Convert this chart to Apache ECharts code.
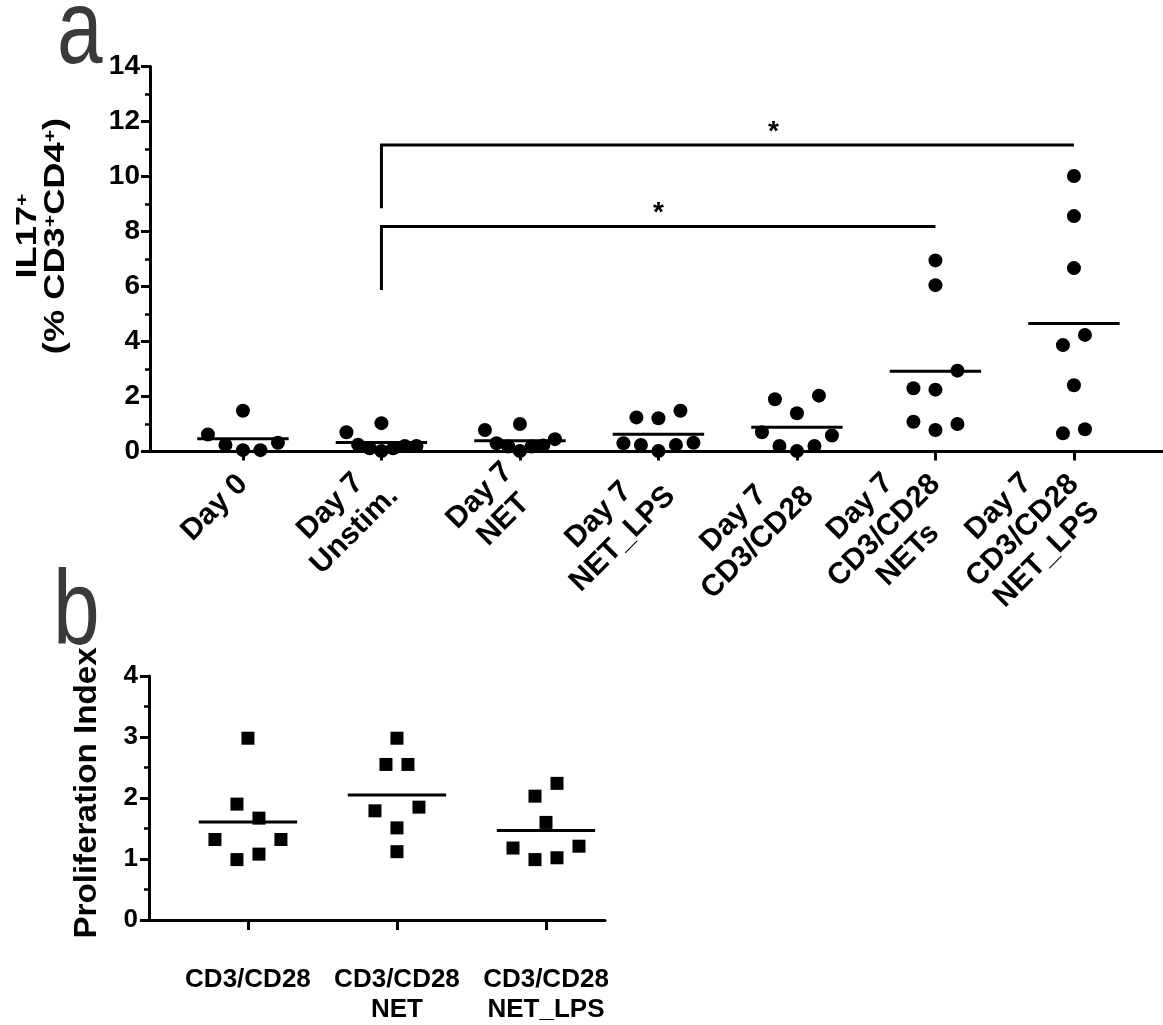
<!DOCTYPE html>
<html>
<head>
<meta charset="utf-8">
<script src="https://cdn.jsdelivr.net/npm/echarts@6/dist/echarts.min.js"></script>
<style>
  html, body { margin: 0; padding: 0; background: #fff; }
  #chart { width: 1163px; height: 1025px; }
</style>
</head>
<body>
<div id="chart"></div>
<script>
// panel a: IL17+ (% CD3+CD4+), one array per group (row order left to right)
const catsA = ['Day 0', 'Day 7\nUnstim.', 'Day 7\nNET', 'Day 7\nNET_LPS', 'Day 7\nCD3/CD28', 'Day 7\nCD3/CD28\nNETs', 'Day 7\nCD3/CD28\nNET_LPS']
const day0 = [0.62, 0.24, 0.05, 0.05, 0.32, 1.48]
const day7Unstim = [0.70, 0.25, 0.12, 0.02, 0.12, 0.20, 0.20, 1.03]
const day7Net = [0.78, 0.30, 0.18, 0.02, 0.18, 0.22, 0.45, 1.00]
const day7NetLps = [0.30, 0.24, 0.02, 0.24, 0.32, 1.24, 1.21, 1.48]
const day7Cd = [0.70, 0.20, 0.02, 0.20, 0.58, 1.90, 1.39, 2.03]
const day7CdNets = [1.08, 0.78, 1.00, 2.30, 2.25, 2.94, 6.05, 6.95]
const day7CdNetLps = [0.66, 0.81, 2.41, 3.87, 4.24, 6.67, 8.56, 10.02]
const groupsA = [day0, day7Unstim, day7Net, day7NetLps, day7Cd, day7CdNets, day7CdNetLps]
const ticksA = [0, 2, 4, 6, 8, 10, 12, 14]

// significance brackets in panel a
const bracketFrom = [1, 1]
const bracketTo = [5, 6]
const bracketTop = [8.18, 11.15]
const bracketDrop = [5.87, 8.85]
const starX = [3, 3.83]

// panel b: proliferation index
const catsB = ['CD3/CD28', 'CD3/CD28\nNET', 'CD3/CD28\nNET_LPS']
const cd = [1.32, 0.99, 1.08, 1.32, 1.90, 1.67, 2.98]
const cdNet = [1.12, 1.79, 1.51, 1.85, 2.55, 2.55, 2.98]
const cdNetLps = [1.18, 0.99, 1.02, 1.21, 1.60, 2.03, 2.24]
const groupsB = [cd, cdNet, cdNetLps]
const ticksB = [0, 1, 2, 3, 4]

const FONT = "'Liberation Sans', Arial, sans-serif"
const gA = { left: 150, top: 66.5, width: 1013, height: 385, xmin: -0.671, xmax: 6.643, ymax: 14 }
const gB = { left: 149, top: 676, width: 456, height: 248.3, xmin: -0.664, xmax: 2.396, ymax: 4 }
const MEAN_HALF = 0.33

// GraphPad-like column scatter: bin close values into rows, spread rows symmetrically
function swarm(vals, idx, g) {
  const pxX = g.width / (g.xmax - g.xmin), pxY = g.height / g.ymax
  const order = vals.map((v, k) => k).sort((a, b) => vals[a] - vals[b] || a - b)
  const rows = []
  order.forEach(k => {
    const row = rows[rows.length - 1]
    if (row && (vals[k] - vals[row[0]]) * pxY < 21.5) row.push(k)
    else rows.push([k])
  })
  const out = []
  rows.forEach(row => {
    row.sort((a, b) => a - b)
    const n = row.length
    const step = n > 1 ? Math.min(22, 70 / (n - 1)) : 0
    row.forEach((k, j) => out.push([idx + (j - (n - 1) / 2) * step / pxX, vals[k]]))
  })
  return out
}
const mean = a => a.reduce((s, v) => s + v, 0) / a.length

function meanSeries(groups, gi) {
  return {
    type: 'custom', xAxisIndex: gi, yAxisIndex: gi, z: 5,
    data: groups.map((g, i) => [i, mean(g)]),
    renderItem: (params, api) => {
      const p1 = api.coord([api.value(0) - MEAN_HALF, api.value(1)])
      const p2 = api.coord([api.value(0) + MEAN_HALF, api.value(1)])
      return { type: 'line', shape: { x1: p1[0], y1: p1[1], x2: p2[0], y2: p2[1] },
        style: { stroke: '#000', lineWidth: 3 } }
    }
  }
}

function xAxisOf(g, gi, cats, label) {
  const idx = cats.map((c, i) => i)
  return {
    type: 'value', gridIndex: gi, min: g.xmin, max: g.xmax,
    axisLine: { onZero: false, lineStyle: { color: '#000', width: 3 } },
    axisTick: { customValues: idx, length: gi === 0 ? 9 : 10, lineStyle: { color: '#000', width: 3 } },
    axisLabel: Object.assign({ customValues: idx, color: '#000', fontFamily: FONT, fontWeight: 'bold' }, label),
    splitLine: { show: false }
  }
}

function yAxisOf(g, gi, ticks, size, margin) {
  return {
    type: 'value', gridIndex: gi, min: 0, max: g.ymax, interval: ticks[1] - ticks[0],
    axisLine: { show: true, onZero: false, lineStyle: { color: '#000', width: 3 } },
    axisTick: { show: true, length: 9, lineStyle: { color: '#000', width: 3 } },
    minorTick: { show: true, splitNumber: 2, length: 5, lineStyle: { color: '#000', width: 2.5 } },
    axisLabel: { color: '#000', fontFamily: FONT, fontWeight: 'bold', fontSize: size, margin: margin },
    splitLine: { show: false }
  }
}

const chart = echarts.init(document.getElementById('chart'), null, { renderer: 'canvas' })

const option = {
  animation: false,
  backgroundColor: '#fff',
  grid: [
    { left: gA.left, top: gA.top, width: gA.width, height: gA.height },
    { left: gB.left, top: gB.top, width: gB.width, height: gB.height }
  ],
  xAxis: [
    xAxisOf(gA, 0, catsA, {
      rotate: 45, margin: 28, fontSize: 30,
      formatter: v => (catsA[v] || '').split('\n').map(l => '{c|' + l + '}').join('\n'),
      rich: { c: { align: 'center', fontSize: 30, lineHeight: 34, fontWeight: 'bold', fontFamily: FONT, color: '#000' } }
    }),
    xAxisOf(gB, 1, catsB, {
      margin: 45, fontSize: 26, lineHeight: 30,
      formatter: v => catsB[v] || ''
    })
  ],
  yAxis: [
    yAxisOf(gA, 0, ticksA, 28, 10),
    yAxisOf(gB, 1, ticksB, 26, 11)
  ],
  series: [
    ...groupsA.map((g, i) => ({
      type: 'scatter', xAxisIndex: 0, yAxisIndex: 0, symbol: 'circle', symbolSize: 14,
      itemStyle: { color: '#000', opacity: 1 }, data: swarm(g, i, gA), z: 4
    })),
    meanSeries(groupsA, 0),
    {
      type: 'custom', xAxisIndex: 0, yAxisIndex: 0, z: 6,
      data: bracketFrom.map((f, i) => [f, bracketTo[i], bracketTop[i], bracketDrop[i], starX[i]]),
      renderItem: (params, api) => {
        const a = api.coord([api.value(0), api.value(3)])
        const b = api.coord([api.value(0), api.value(2)])
        const c = api.coord([api.value(1), api.value(2)])
        const s = api.coord([api.value(4), api.value(2)])
        return { type: 'group', children: [
          { type: 'polyline', shape: { points: [a, b, c] }, style: { stroke: '#000', lineWidth: 3, fill: null } },
          { type: 'text', x: s[0], y: s[1] + 1, style: { text: '*', fill: '#000', font: 'bold 28px ' + FONT,
            align: 'center', verticalAlign: 'bottom' } }
        ] }
      }
    },
    ...groupsB.map((g, i) => ({
      type: 'scatter', xAxisIndex: 1, yAxisIndex: 1, symbol: 'rect', symbolSize: 13,
      itemStyle: { color: '#000', opacity: 1 }, data: swarm(g, i, gB), z: 4
    })),
    meanSeries(groupsB, 1)
  ],
  graphic: [
    { type: 'text', x: 57, y: -18, scaleX: 0.78, style: { text: 'a', fill: '#3a3a3a', font: '105px ' + FONT, verticalAlign: 'top' } },
    { type: 'text', x: 53, y: 563, scaleX: 0.8, style: { text: 'b', fill: '#3a3a3a', font: '105px ' + FONT, verticalAlign: 'top' } },
    { type: 'text', x: 42, y: 236, rotation: Math.PI / 2, scaleX: 1.25, style: {
      text: '{n|IL17}{s|+}\n{n|(% CD3}{s|+}{n|CD4}{s|+}{n|)}', align: 'center', verticalAlign: 'middle', fill: '#000',
      rich: {
        n: { font: 'bold 29px ' + FONT, lineHeight: 28, fill: '#000' },
        s: { font: 'bold 17px ' + FONT, lineHeight: 28, verticalAlign: 'top', fill: '#000' }
      } } },
    { type: 'text', x: 87, y: 793, rotation: Math.PI / 2, scaleX: 1.07, style: {
      text: 'Proliferation Index', align: 'center', verticalAlign: 'middle', fill: '#000', font: 'bold 31px ' + FONT } }
  ]
}

chart.setOption(option)
window.addEventListener('resize', () => chart.resize())
</script>
</body>
</html>
